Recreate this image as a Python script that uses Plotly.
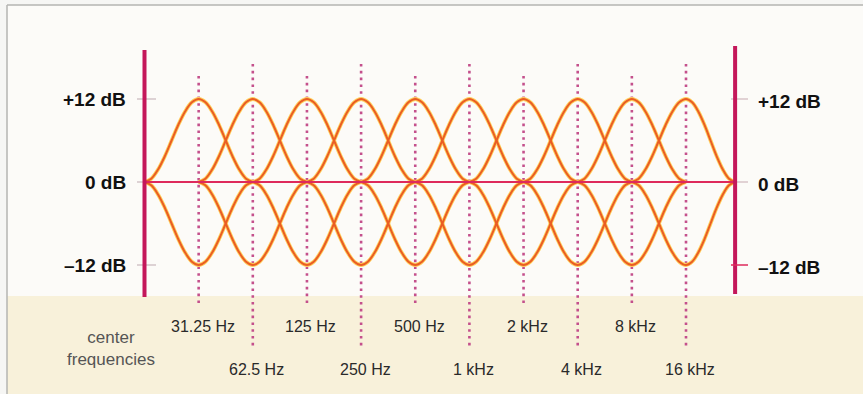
import plotly.graph_objects as go
import math

# ---------------- data ----------------
center_freqs_hz = [31.25, 62.5, 125, 250, 500, 1000, 2000, 4000, 8000, 16000]
center_labels = ["31.25 Hz", "62.5 Hz", "125 Hz", "250 Hz", "500 Hz",
                 "1 kHz", "2 kHz", "4 kHz", "8 kHz", "16 kHz"]
label_row = [0, 1, 0, 1, 0, 1, 0, 1, 0, 1]          # 0 = upper row, 1 = lower row
band_low_edge_hz = [15.625, 31.25, 62.5, 125, 250, 500, 1000, 2000, 4000, 8000]
band_high_edge_hz = [62.5, 125, 250, 500, 1000, 2000, 4000, 8000, 16000, 30000]
max_gain_db = 12
# bell shape: fraction of the way (in octaves) from the
# center towards the band edge, and fraction of the max gain at that point
shape_frac = [-1.0, -0.875, -0.75, -0.625, -0.5, -0.375, -0.25, -0.125, 0.0,
              0.125, 0.25, 0.375, 0.5, 0.625, 0.75, 0.875, 1.0]
shape_gain = [0.0, 0.04, 0.15, 0.31, 0.5, 0.69, 0.85, 0.96, 1.0,
              0.96, 0.85, 0.69, 0.5, 0.31, 0.15, 0.04, 0.0]
db_ticks = [12, 0, -12]
db_tick_labels = ["+12 dB", "0 dB", "\u201312 dB"]
range_low_hz = 15.625
range_high_hz = 30000

# ---------------- geometry helpers ----------------
W, H = 863, 394
PX_OCT = 54.15           # pixels per octave
X0_PX = 144.5            # pixel of range_low_hz
Y0_PX = 182.0            # pixel of 0 dB
PX_DB = 83.0 / 12.0      # pixels per dB

log_lo = math.log10(range_low_hz) - (X0_PX / PX_OCT) * math.log10(2)
log_hi = math.log10(range_low_hz) + ((W - X0_PX) / PX_OCT) * math.log10(2)
y_top = Y0_PX / PX_DB
y_bot = (Y0_PX - H) / PX_DB


def px_x(p):
    return p / W


def px_y(p):
    return 1 - p / H


fig = go.Figure()

CURVE = "#ea5d24"
GLOW = "#ffcf5c"


def band_x(i):
    fc = center_freqs_hz[i]
    lo = band_low_edge_hz[i]
    hi = band_high_edge_hz[i]
    xs = []
    for f in shape_frac:
        if f < 0:
            xs.append(fc * (fc / lo) ** f)
        else:
            xs.append(fc * (hi / fc) ** f)
    return xs


for color, width in ((GLOW, 3.8), (CURVE, 2.0)):
    for i in range(len(center_freqs_hz)):
        xs = band_x(i)
        for sign in (1, -1):
            ys = [sign * max_gain_db * g for g in shape_gain]
            fig.add_trace(go.Scatter(x=xs, y=ys, mode="lines",
                                     line=dict(color=color, width=width, shape="spline", smoothing=1.0),
                                     hoverinfo="skip", showlegend=False))

# 0 dB reference line
fig.add_trace(go.Scatter(x=[range_low_hz, range_high_hz], y=[0, 0], mode="lines",
                         line=dict(color="#de2a5c", width=2), hoverinfo="skip",
                         showlegend=False))

shapes = []
# page frame & backgrounds
shapes.append(dict(type="rect", xref="paper", yref="paper", layer="below",
                   x0=px_x(7), x1=px_x(880), y0=px_y(5), y1=px_y(296),
                   fillcolor="#fcfbf8", line=dict(width=0)))
shapes.append(dict(type="rect", xref="paper", yref="paper", layer="below",
                   x0=px_x(7), x1=px_x(880), y0=px_y(296), y1=px_y(400),
                   fillcolor="#f8f1da", line=dict(width=0)))
shapes.append(dict(type="line", xref="paper", yref="paper", layer="below",
                   x0=px_x(7), x1=px_x(880), y0=px_y(5), y1=px_y(5),
                   line=dict(color="#b5b5b2", width=1.5)))
shapes.append(dict(type="line", xref="paper", yref="paper", layer="below",
                   x0=px_x(7), x1=px_x(7), y0=px_y(5), y1=px_y(400),
                   line=dict(color="#b5b5b2", width=1.5)))

# dotted center-frequency lines
for i, fc in enumerate(center_freqs_hz):
    top = 76 if label_row[i] == 0 else 64
    bot = 305 if label_row[i] == 0 else 346
    shapes.append(dict(type="line", xref="x", yref="paper", layer="below",
                       x0=fc, x1=fc, y0=px_y(top), y1=px_y(bot),
                       line=dict(color="#c4508c", width=2.6, dash="2.6px,4.2px")))

# vertical bars
shapes.append(dict(type="line", xref="x", yref="paper", x0=range_low_hz, x1=range_low_hz,
                   y0=px_y(50), y1=px_y(297), line=dict(color="#c4175a", width=4)))
shapes.append(dict(type="line", xref="x", yref="paper", x0=range_high_hz, x1=range_high_hz,
                   y0=px_y(46), y1=px_y(294), line=dict(color="#c4175a", width=4)))

# small tick marks
for v in db_ticks:
    shapes.append(dict(type="line", xref="paper", yref="y", layer="below",
                       x0=px_x(137), x1=px_x(156), y0=v, y1=v,
                       line=dict(color="#c8b8bc", width=1.2)))
    col = "#de2a5c" if v < 0 else "#d8c4c8"
    shapes.append(dict(type="line", xref="paper", yref="y", layer="below" if v >= 0 else "above",
                       x0=px_x(731), x1=px_x(748), y0=v, y1=v,
                       line=dict(color=col, width=1.5)))

annotations = []
LABEL_FONT = dict(family="Liberation Sans, Arial, sans-serif", size=19, color="#111111")
for v, t in zip(db_ticks, db_tick_labels):
    annotations.append(dict(x=px_x(128), y=v, xref="paper", yref="y", text="<b>%s</b>" % t,
                            showarrow=False, xanchor="right", yanchor="middle", font=LABEL_FONT))
    annotations.append(dict(x=px_x(756), y=v - 0.3, xref="paper", yref="y", text="<b>%s</b>" % t,
                            showarrow=False, xanchor="left", yanchor="middle", font=LABEL_FONT))

FREQ_FONT = dict(family="Liberation Sans, Arial, sans-serif", size=16, color="#2a2a2a")
for i, fc in enumerate(center_freqs_hz):
    ypix = 326 if label_row[i] == 0 else 369
    annotations.append(dict(x=math.log10(fc), y=px_y(ypix), xref="x", yref="paper",
                            text=center_labels[i], showarrow=False, xanchor="center",
                            yanchor="middle", xshift=4, font=FREQ_FONT))

annotations.append(dict(x=px_x(111), y=px_y(348), xref="paper", yref="paper",
                        text="center<br>frequencies", showarrow=False, xanchor="center",
                        yanchor="middle", align="center",
                        font=dict(family="Liberation Sans, Arial, sans-serif", size=17,
                                  color="#555555")))

fig.update_layout(
    width=W, height=H,
    margin=dict(l=0, r=0, t=0, b=0),
    paper_bgcolor="#f6f6f4",
    plot_bgcolor="rgba(0,0,0,0)",
    showlegend=False,
    hovermode=False,
    xaxis=dict(type="log", range=[log_lo, log_hi], visible=False, fixedrange=True),
    yaxis=dict(range=[y_bot, y_top], visible=False, fixedrange=True),
    shapes=shapes,
    annotations=annotations,
)

fig.write_html("out.html",
               config={"displayModeBar": False, "staticPlot": True},
               post_script="document.body.style.margin='0';document.body.style.padding='0';")
